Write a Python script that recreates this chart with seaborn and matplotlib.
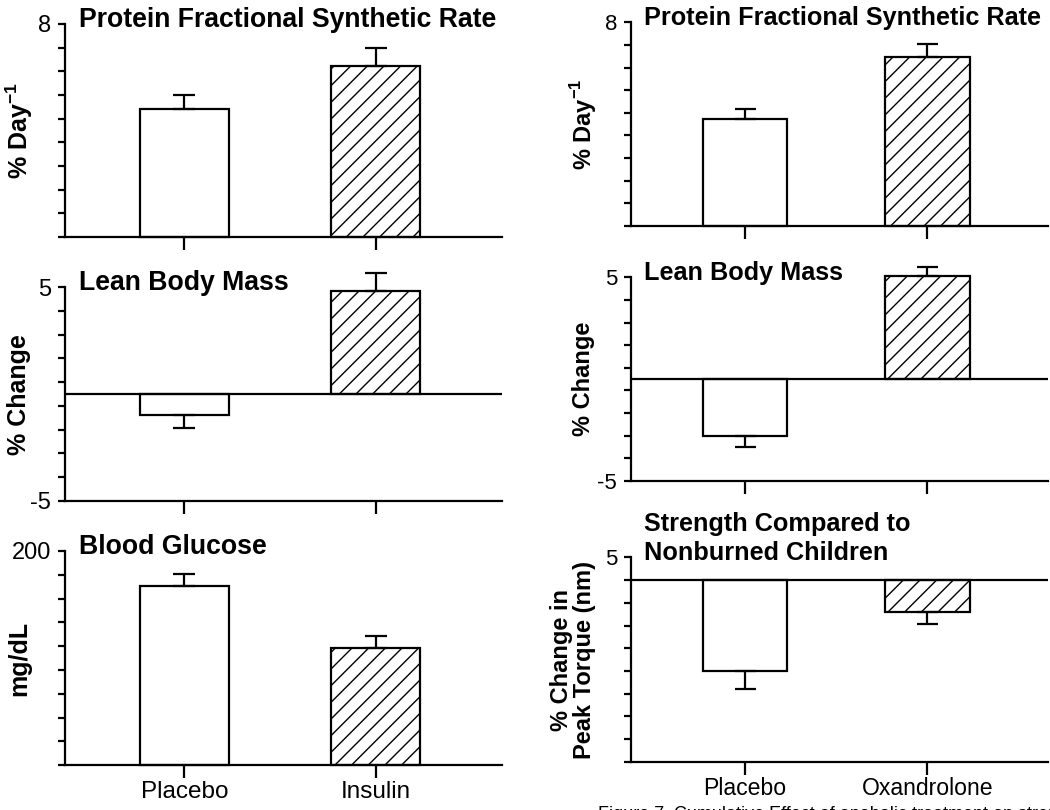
import numpy as np
import pandas as pd
import matplotlib
matplotlib.use("Agg")
import matplotlib.pyplot as plt
import seaborn as sns

# left column: insulin study
cats_ins = ["Placebo", "Insulin"]
fsr_ins = [4.8, 6.43]
fsr_ins_err = [0.53, 0.65]
lbm_ins = [-1.0, 4.83]
lbm_ins_err = [0.6, 0.82]
glu_ins = [167.3, 109.8]
glu_ins_err = [11.2, 11.2]

# right column: oxandrolone study
cats_ox = ["Placebo", "Oxandrolone"]
fsr_ox = [4.2, 6.62]
fsr_ox_err = [0.38, 0.53]
lbm_ox = [-2.81, 5.07]
lbm_ox_err = [0.52, 0.43]
str_ox = [-20.1, -7.0]
str_ox_err = [3.8, 2.6]

sns.set_style("ticks")
plt.rcParams["font.family"] = ["Liberation Sans", "DejaVu Sans"]
plt.rcParams["mathtext.fontset"] = "custom"
plt.rcParams["mathtext.rm"] = "Liberation Sans:bold"
plt.rcParams["mathtext.bf"] = "Liberation Sans:bold"
plt.rcParams["hatch.linewidth"] = 1.0
for k in ("text.color", "axes.labelcolor", "xtick.color", "ytick.color",
          "axes.edgecolor"):
    plt.rcParams[k] = "black"

LW = 1.6

fig = plt.figure(figsize=(10.5, 8.1), dpi=100)


def panel(rect, cats, vals, errs, title, ylabel, ylim, ticks, ticklabels,
          zero_line=False, show_x=False, scale=1.0, label_x=-0.105,
          title_ls=1.0):
    ax = fig.add_axes(rect)
    df = pd.DataFrame({"group": cats, "value": vals})
    sns.barplot(data=df, x="group", y="value", ax=ax, color="white",
                saturation=1, edgecolor="black", linewidth=LW, width=0.465)
    for p in ax.patches:
        p.set_clip_on(False)
    ax.patches[1].set_hatch("//")
    lower = [e if v < 0 else 0 for v, e in zip(vals, errs)]
    upper = [e if v > 0 else 0 for v, e in zip(vals, errs)]
    eb = ax.errorbar(x=np.arange(len(cats)), y=vals, yerr=[lower, upper],
                     fmt="none", ecolor="black", elinewidth=LW,
                     capsize=8 * scale, capthick=LW, zorder=1)
    for art in eb.lines[1] + eb.lines[2]:
        art.set_clip_on(False)
    if zero_line:
        ax.axhline(0, color="black", lw=LW, zorder=3)
    ax.set_xlim(-0.625, 1.66)
    ax.set_ylim(*ylim)
    ax.set_yticks(ticks)
    ax.set_yticklabels(ticklabels)
    sns.despine(ax=ax)
    for s in ("left", "bottom"):
        ax.spines[s].set_linewidth(LW)
    ax.tick_params(axis="y", length=5, width=LW, pad=5,
                   labelsize=17 * scale)
    ax.tick_params(axis="x", length=9, width=LW, pad=2,
                   labelsize=17.5 * scale)
    if not show_x:
        ax.set_xticklabels([])
    ax.set_xlabel("")
    ax.set_ylabel(ylabel, fontsize=18 * scale, fontweight="bold", va="center",
                  linespacing=1.0)
    ax.yaxis.set_label_coords(label_x, 0.5)
    ax.text(0.032, 0.988, title, transform=ax.transAxes, ha="left",
            va="baseline", fontsize=19.2 * scale, fontweight="bold",
            linespacing=title_ls)
    return ax


lx, lw_ = 0.0619, 0.416
rx, rw = 0.601, 0.397
rs = 0.945

panel([lx, 0.7074, lw_, 0.263], cats_ins, fsr_ins, fsr_ins_err,
      "Protein Fractional Synthetic Rate", r"% Day$^{-1}$", (0, 8),
      np.linspace(0, 8, 10), [""] * 9 + ["8"])
panel([lx, 0.3815, lw_, 0.264], cats_ins, lbm_ins, lbm_ins_err,
      "Lean Body Mass", "% Change", (-5, 5),
      np.linspace(-5, 5, 10), ["-5"] + [""] * 8 + ["5"], zero_line=True)
panel([lx, 0.0552, lw_, 0.2646], cats_ins, glu_ins, glu_ins_err,
      "Blood Glucose", "mg/dL", (0, 200),
      np.linspace(0, 200, 10), [""] * 9 + ["200"], show_x=True)

panel([rx, 0.721, rw, 0.2515], cats_ox, fsr_ox, fsr_ox_err,
      "Protein Fractional Synthetic Rate", r"% Day$^{-1}$", (0, 8),
      np.linspace(0, 8, 10), [""] * 9 + ["8"], scale=rs, label_x=-0.115)
panel([rx, 0.4062, rw, 0.2515], cats_ox, lbm_ox, lbm_ox_err,
      "Lean Body Mass", "% Change", (-5, 5),
      np.linspace(-5, 5, 10), ["-5"] + [""] * 8 + ["5"], zero_line=True,
      scale=rs, label_x=-0.115)
panel([rx, 0.0593, rw, 0.2527], cats_ox, str_ox, str_ox_err,
      "Strength Compared to\nNonburned Children",
      "% Change in\nPeak Torque (nm)", (-40, 5),
      np.arange(-40, 6, 5), [""] * 9 + ["5"], zero_line=True, show_x=True,
      scale=rs, label_x=-0.139, title_ls=1.25)

fig.text(0.570, 0.0055, "Figure 7. Cumulative Effect of anabolic treatment on strength of",
         fontsize=13, va="top", ha="left")

plt.savefig("out.png", dpi=100)
